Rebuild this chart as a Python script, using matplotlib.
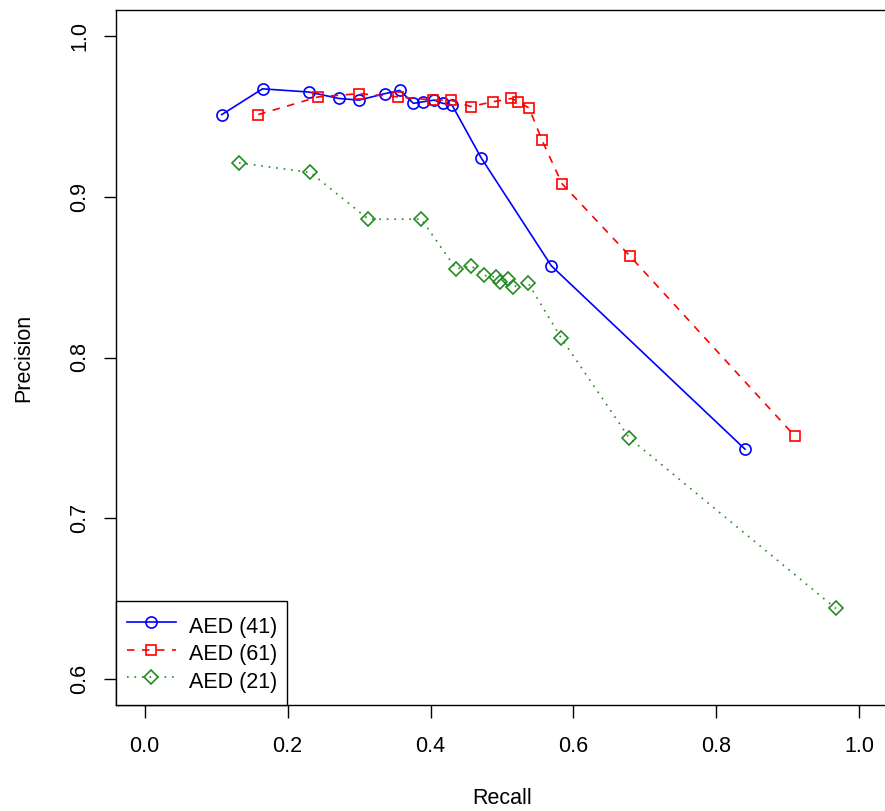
import matplotlib
matplotlib.use("Agg")
import matplotlib.pyplot as plt

plt.rcParams['font.family'] = ['Liberation Sans', 'DejaVu Sans']

labels = ["AED (41)", "AED (61)", "AED (21)"]

recall_41 = [0.108, 0.165, 0.230, 0.272, 0.300, 0.336, 0.357, 0.376, 0.390, 0.405, 0.417, 0.430, 0.471, 0.569, 0.840]
precision_41 = [0.951, 0.967, 0.965, 0.961, 0.960, 0.964, 0.966, 0.958, 0.959, 0.960, 0.958, 0.957, 0.924, 0.857, 0.743]

recall_61 = [0.159, 0.243, 0.300, 0.355, 0.404, 0.428, 0.456, 0.488, 0.513, 0.523, 0.538, 0.556, 0.584, 0.679, 0.910]
precision_61 = [0.951, 0.962, 0.964, 0.962, 0.960, 0.960, 0.956, 0.959, 0.961, 0.959, 0.955, 0.935, 0.908, 0.863, 0.751]

recall_21 = [0.132, 0.232, 0.313, 0.387, 0.436, 0.457, 0.475, 0.492, 0.497, 0.508, 0.515, 0.537, 0.583, 0.678, 0.967]
precision_21 = [0.921, 0.915, 0.886, 0.886, 0.855, 0.857, 0.851, 0.850, 0.847, 0.849, 0.844, 0.846, 0.812, 0.750, 0.644]

xticks = [0.0, 0.2, 0.4, 0.6, 0.8, 1.0]
yticks = [0.6, 0.7, 0.8, 0.9, 1.0]

fig = plt.figure(figsize=(8.85, 8.11), dpi=100)
ax = fig.add_axes([116 / 885, 106 / 811, 772 / 885, 695 / 811])

lw = 1.2
ax.plot(recall_41, precision_41, color='#0000FF', lw=lw, marker='o', ms=8,
        mfc='none', mec='#0000FF', mew=1.2, label=labels[0])
ax.plot(recall_61, precision_61, color='#FF0000', lw=lw, dashes=(4.5, 4.5), marker='s', ms=7.2,
        mfc='none', mec='#FF0000', mew=1.2, label=labels[1])
ax.plot(recall_21, precision_21, color='#228B22', lw=lw, dashes=(1, 3.5), marker='D', ms=6.8,
        mfc='none', mec='#228B22', mew=1.2, label=labels[2])

ax.set_xlim(-0.04, 1.04)
ax.set_ylim(0.584, 1.016)
ax.set_xticks(xticks)
ax.set_xticklabels([f"{v:.1f}" for v in xticks])
ax.set_yticks(yticks)
ax.set_yticklabels([f"{v:.1f}" for v in yticks], rotation=90, va='center')

fs = 15.5
ax.tick_params(axis='both', length=9, width=1, labelsize=fs, color='black')
ax.tick_params(axis='x', pad=13)
ax.tick_params(axis='y', pad=9.5)
for sp in ax.spines.values():
    sp.set_linewidth(1.0)
    sp.set_color('black')

ax.set_xlabel("Recall", fontsize=fs, labelpad=23)
ax.set_ylabel("Precision", fontsize=fs, labelpad=25)

leg = ax.legend(loc='lower left', borderaxespad=0, fancybox=False, edgecolor='black',
                framealpha=1, fontsize=fs, handlelength=2.28, handletextpad=0.6,
                labelspacing=0.0, handleheight=1.59, borderpad=0.49)
leg.get_frame().set_linewidth(1.0)

fig.savefig("out.png", dpi=100)
